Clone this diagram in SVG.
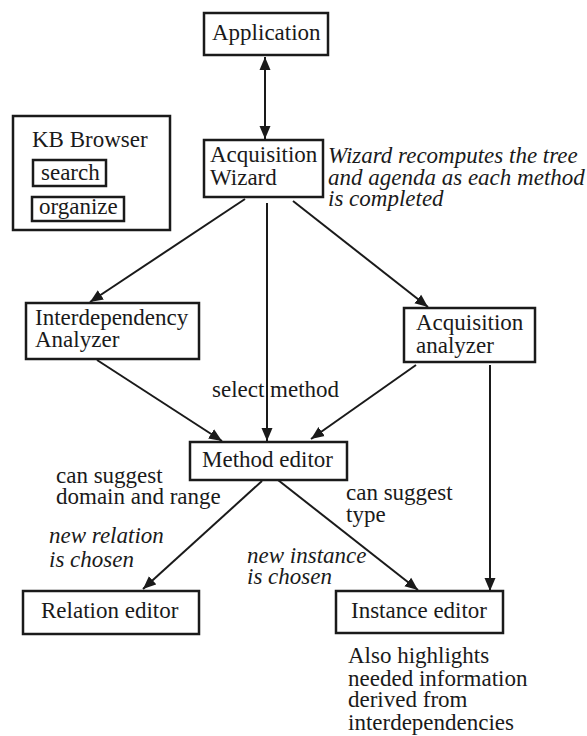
<svg xmlns="http://www.w3.org/2000/svg" width="587" height="736" viewBox="0 0 587 736" font-family="'Liberation Serif', 'DejaVu Serif', serif" font-size="23">
<style>
text{font-family:'Liberation Serif','DejaVu Serif',serif;font-size:23px;fill:#1a1a1a}
.it{font-style:italic}
.box{fill:#fff;stroke:#1a1a1a;stroke-width:2.5}
.ln{stroke:#1a1a1a;stroke-width:2;fill:none}
</style>
<defs>
<marker id="ah" markerUnits="userSpaceOnUse" markerWidth="14" markerHeight="12" refX="13" refY="6" orient="auto-start-reverse">
<path d="M0,0.5 L13,6 L0,11.5 z" fill="#1a1a1a"/>
</marker>
</defs>
<g id="connectors">
<line class="ln" x1="265" y1="57" x2="265" y2="139" marker-start="url(#ah)" marker-end="url(#ah)"/>
<line class="ln" x1="245" y1="199" x2="90" y2="302" marker-end="url(#ah)"/>
<line class="ln" x1="267" y1="203" x2="267" y2="441" marker-end="url(#ah)"/>
<line class="ln" x1="293" y1="201" x2="428" y2="307" marker-end="url(#ah)"/>
<line class="ln" x1="97" y1="360" x2="222" y2="441" marker-end="url(#ah)"/>
<line class="ln" x1="416" y1="365" x2="311" y2="439" marker-end="url(#ah)"/>
<line class="ln" x1="490" y1="365" x2="490" y2="591" marker-end="url(#ah)"/>
<line class="ln" x1="262" y1="481" x2="143" y2="589" marker-end="url(#ah)"/>
<line class="ln" x1="278" y1="480" x2="418" y2="590" marker-end="url(#ah)"/>
</g>
<g id="application">
<rect class="box" x="204" y="13" width="124" height="42"/>
<text x="212" y="40">Application</text>
</g>
<g id="kb-browser">
<rect class="box" x="13" y="116" width="157" height="114"/>
<text x="32" y="147">KB Browser</text>
<g id="search">
<rect class="box" x="33" y="160" width="73" height="26"/>
<text x="41" y="180">search</text>
</g>
<g id="organize">
<rect class="box" x="32" y="197" width="92" height="24"/>
<text x="39" y="214">organize</text>
</g>
</g>
<g id="acquisition-wizard">
<rect class="box" x="204" y="140" width="119" height="57"/>
<text x="210" y="162">Acquisition</text>
<text x="210" y="185">Wizard</text>
</g>
<g id="wizard-note">
<text class="it" x="328" y="163">Wizard recomputes the tree</text>
<text class="it" x="328" y="185">and agenda as each method</text>
<text class="it" x="328" y="206">is completed</text>
</g>
<g id="interdependency-analyzer">
<rect class="box" x="26" y="303" width="173" height="56"/>
<text x="35" y="325">Interdependency</text>
<text x="35" y="347">Analyzer</text>
</g>
<g id="acquisition-analyzer">
<rect class="box" x="404" y="308" width="131" height="54"/>
<text x="416" y="330">Acquisition</text>
<text x="416" y="353">analyzer</text>
</g>
<g id="select-method-label">
<text x="212" y="397">select method</text>
</g>
<g id="method-editor">
<rect class="box" x="190" y="442" width="157" height="38"/>
<text x="202" y="467">Method editor</text>
</g>
<g id="labels">
<text x="56" y="483">can suggest</text>
<text x="56" y="504">domain and range</text>
<text class="it" x="49" y="543">new relation</text>
<text class="it" x="49" y="567">is chosen</text>
<text x="346" y="500">can suggest</text>
<text x="346" y="522">type</text>
<text class="it" x="247" y="563">new instance</text>
<text class="it" x="247" y="584">is chosen</text>
</g>
<g id="relation-editor">
<rect class="box" x="23" y="591" width="176" height="43"/>
<text x="41" y="618">Relation editor</text>
</g>
<g id="instance-editor">
<rect class="box" x="336" y="591" width="167" height="42"/>
<text x="351" y="618">Instance editor</text>
</g>
<g id="instance-note">
<text x="348" y="663">Also highlights</text>
<text x="348" y="686">needed information</text>
<text x="348" y="707">derived from</text>
<text x="348" y="730">interdependencies</text>
</g>
</svg>
